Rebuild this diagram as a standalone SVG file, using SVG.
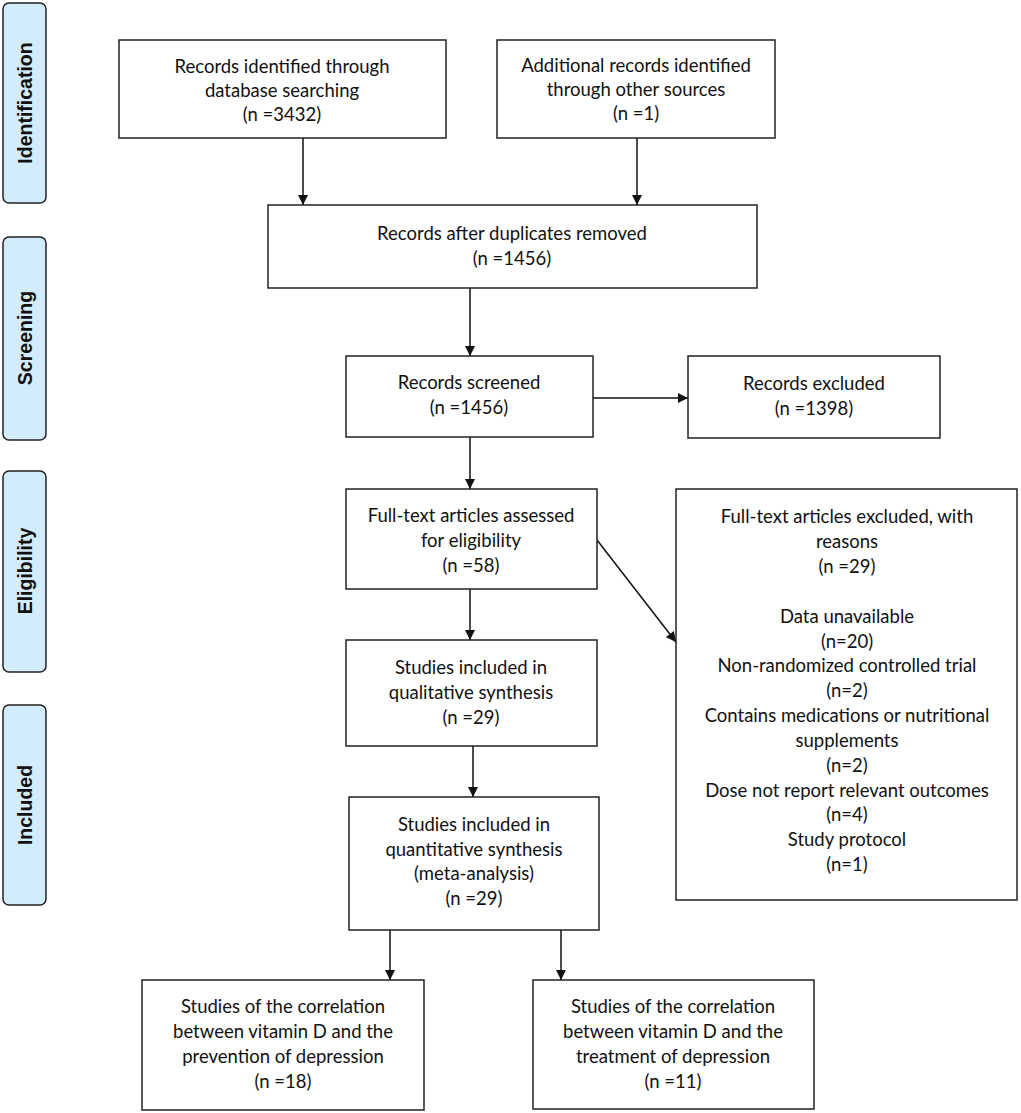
<svg xmlns="http://www.w3.org/2000/svg" width="1021" height="1113" viewBox="0 0 1021 1113">
<style>
.box{fill:#fff;stroke:#222;stroke-width:1.5}
.side{fill:#d3ecfb;stroke:#222;stroke-width:1.5}
.t{font-family:Lato,"Liberation Sans",sans-serif;font-size:18.5px;fill:#111;text-anchor:middle}
.s{font-family:"Liberation Sans",Arial,sans-serif;font-size:19.5px;font-weight:bold;fill:#111;text-anchor:middle}
.c{stroke:#111;stroke-width:1.5;fill:none;marker-end:url(#ah)}
</style>
<defs>
<marker id="ah" viewBox="0 0 10 10" refX="10" refY="5" markerWidth="11" markerHeight="10" markerUnits="userSpaceOnUse" orient="auto">
<path d="M0,0 L10,5 L0,10 z" fill="#111"/>
</marker>
</defs>
<rect width="1021" height="1113" fill="#fff"/>
<g id="side-identification"><rect class="side" x="3" y="3" width="43" height="200" rx="6"/><text class="s" transform="translate(32,103) rotate(-90)">Identification</text></g>
<g id="side-screening"><rect class="side" x="3" y="237" width="43" height="203" rx="6"/><text class="s" transform="translate(32,338) rotate(-90)">Screening</text></g>
<g id="side-eligibility"><rect class="side" x="3" y="471" width="43" height="201" rx="6"/><text class="s" transform="translate(32,571) rotate(-90)">Eligibility</text></g>
<g id="side-included"><rect class="side" x="3" y="705" width="43" height="200" rx="6"/><text class="s" transform="translate(32,805) rotate(-90)">Included</text></g>

<g id="connectors">
<line class="c" x1="303" y1="138" x2="303" y2="205"/>
<line class="c" x1="637" y1="138" x2="637" y2="205"/>
<line class="c" x1="470" y1="288" x2="470" y2="356"/>
<line class="c" x1="593" y1="398" x2="688" y2="398"/>
<line class="c" x1="470" y1="437" x2="470" y2="489"/>
<line class="c" x1="597" y1="540" x2="676" y2="642"/>
<line class="c" x1="470" y1="589" x2="470" y2="640"/>
<line class="c" x1="473" y1="746" x2="473" y2="797"/>
<line class="c" x1="390" y1="930" x2="390" y2="980"/>
<line class="c" x1="561" y1="930" x2="561" y2="980"/>
</g>

<g id="n-database"><rect class="box" x="119" y="40" width="327" height="98"/>
<text class="t" x="282" y="73">Records identified through</text><text class="t" x="282" y="97">database searching</text><text class="t" x="282" y="121">(n =3432)</text></g>
<g id="n-other"><rect class="box" x="497" y="40" width="278" height="98"/>
<text class="t" x="636" y="72">Additional records identified</text><text class="t" x="636" y="96">through other sources</text><text class="t" x="636" y="120">(n =1)</text></g>
<g id="n-duplicates"><rect class="box" x="268" y="205" width="489" height="83"/>
<text class="t" x="512" y="240">Records after duplicates removed</text><text class="t" x="512" y="265">(n =1456)</text></g>
<g id="n-screened"><rect class="box" x="346" y="356" width="247" height="81"/>
<text class="t" x="469" y="389">Records screened</text><text class="t" x="469" y="414">(n =1456)</text></g>
<g id="n-excluded"><rect class="box" x="688" y="356" width="252" height="82"/>
<text class="t" x="814" y="390">Records excluded</text><text class="t" x="814" y="415">(n =1398)</text></g>
<g id="n-fulltext"><rect class="box" x="346" y="489" width="251" height="100"/>
<text class="t" x="471" y="522">Full-text articles assessed</text><text class="t" x="471" y="547">for eligibility</text><text class="t" x="471" y="572">(n =58)</text></g>
<g id="n-reasons"><rect class="box" x="676" y="489" width="341" height="411"/>
<text class="t" x="847" y="523">Full-text articles excluded, with</text>
<text class="t" x="847" y="548">reasons</text>
<text class="t" x="847" y="573">(n =29)</text>
<text class="t" x="847" y="623">Data unavailable</text>
<text class="t" x="847" y="648">(n=20)</text>
<text class="t" x="847" y="672">Non-randomized controlled trial</text>
<text class="t" x="847" y="697">(n=2)</text>
<text class="t" x="847" y="722">Contains medications or nutritional</text>
<text class="t" x="847" y="747">supplements</text>
<text class="t" x="847" y="772">(n=2)</text>
<text class="t" x="847" y="797">Dose not report relevant outcomes</text>
<text class="t" x="847" y="821">(n=4)</text>
<text class="t" x="847" y="846">Study protocol</text>
<text class="t" x="847" y="871">(n=1)</text></g>
<g id="n-qualitative"><rect class="box" x="346" y="640" width="251" height="106"/>
<text class="t" x="471" y="674">Studies included in</text><text class="t" x="471" y="699">qualitative synthesis</text><text class="t" x="471" y="724">(n =29)</text></g>
<g id="n-quantitative"><rect class="box" x="349" y="797" width="250" height="133"/>
<text class="t" x="474" y="831">Studies included in</text><text class="t" x="474" y="856">quantitative synthesis</text><text class="t" x="474" y="880">(meta-analysis)</text><text class="t" x="474" y="905">(n =29)</text></g>
<g id="n-prevention"><rect class="box" x="142" y="980" width="282" height="130"/>
<text class="t" x="283" y="1013">Studies of the correlation</text><text class="t" x="283" y="1038">between vitamin D and the</text><text class="t" x="283" y="1063">prevention of depression</text><text class="t" x="283" y="1088">(n =18)</text></g>
<g id="n-treatment"><rect class="box" x="533" y="980" width="281" height="129"/>
<text class="t" x="673" y="1013">Studies of the correlation</text><text class="t" x="673" y="1038">between vitamin D and the</text><text class="t" x="673" y="1063">treatment of depression</text><text class="t" x="673" y="1088">(n =11)</text></g>
</svg>
